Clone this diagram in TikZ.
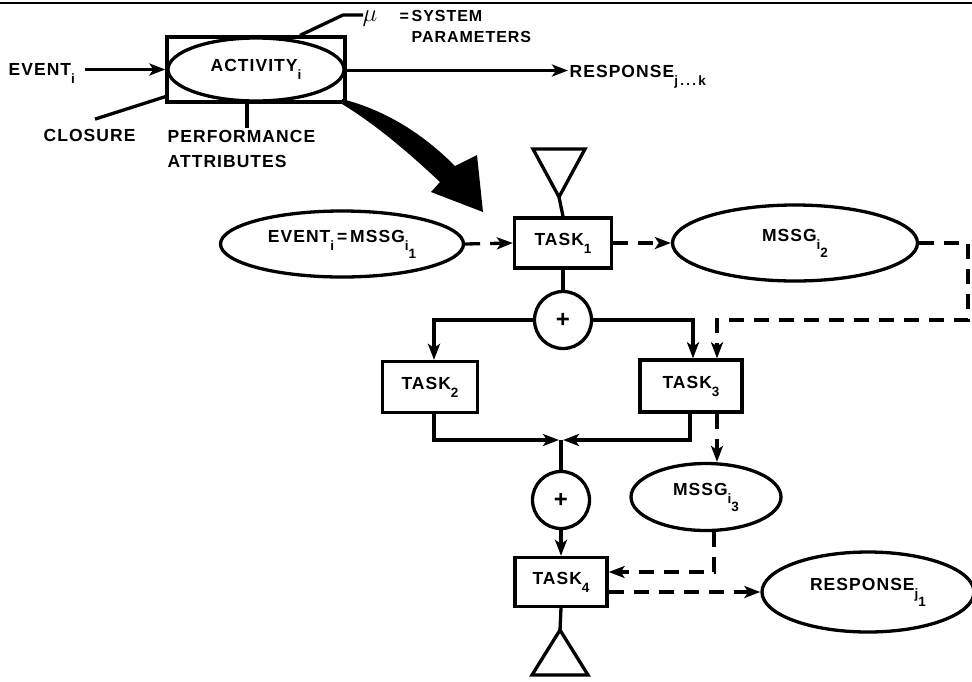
\documentclass[tikz,border=0pt]{standalone}
\usepackage{fontspec}
\setmainfont{Liberation Sans}[LetterSpace=6]
\usetikzlibrary{shapes.geometric,arrows.meta,calc}
\newcommand\lo[1]{\raisebox{-8pt}{\fontsize{13.5}{13.5}\selectfont #1}}
\begin{document}
\begin{tikzpicture}[x=1pt,y=-1pt, line width=3.3pt,
  font=\fontsize{17.5}{20}\selectfont\bfseries,
  arr/.style={-{Stealth[length=16pt,width=12pt,inset=4pt]}},
  dsh/.style={dash pattern=on 15pt off 10pt},
  taskbox/.style={draw, rectangle, inner sep=0pt},
  oval/.style={draw, ellipse, inner sep=0pt},
  junc/.style={draw, circle, inner sep=0pt, minimum size=57pt, font=\fontsize{24}{24}\selectfont\bfseries},
  lbl/.style={inner sep=0pt}]
\useasboundingbox (0,0) rectangle (972,681);
\draw[line width=2.4pt] (0,3) -- (972,3);

% ---------- upper part ----------
\node[taskbox, minimum width=178, minimum height=65] (actbox) at (256,69.5) {};
\node[oval, minimum width=176, minimum height=63] (act) at (256,69.5) {ACTIVITY\lo{i}};

\node[lbl, anchor=base west] (ev) at (7,75) {EVENT\lo{i}};
\draw[arr] ($(ev.east |- actbox.west)+(8,0)$) -- (actbox.west);

\node[lbl, anchor=base west] (clo) at (42,141) {CLOSURE};
\draw ([yshift=7pt]actbox.south west) -- ($(clo.north west)+(53,-8)$);

\node[lbl, anchor=north west, align=left, font=\fontsize{17.5}{25}\selectfont\bfseries] (perf) at (166,129) {PERFORMANCE\\ATTRIBUTES};
\draw ($(actbox.south)+(-9,0)$) -- ($(actbox.south)+(-9,24)$);

\node[lbl, font=\fontsize{30}{30}\selectfont] (mu) at (370,19) {$\mu$};
\draw ($(actbox.north)+(44,0)$) -- (343,15) -- ($(mu.west |- 343,15)+(2,0)$);
\node[lbl, anchor=north west, align=left, font=\fontsize{16}{21}\selectfont\bfseries] (sys) at (398,9) {=\,SYSTEM\\\hphantom{=\,}PARAMETERS};

\node[lbl, anchor=base west] (resp) at (568,77) {RESPONSE\lo{j\,.\,.\,.\,k}};
\draw[arr] ($(actbox.east)+(0,1)$) -- ($(resp.west |- actbox.east)+(0,1)$);

% big curved arrow
\fill (342,99) .. controls (392,112) and (428,139) .. (455,166) -- (477,155) -- (483,212)
  -- (431,192) -- (440,182) .. controls (410,154) and (378,126) .. (342,104) -- cycle;

% ---------- lower part ----------
\coordinate (t1) at (559,197);
\draw[line join=miter] (t1) -- ++(-26,-48) -- ++(52,0) -- cycle;

\node[taskbox, minimum width=97, minimum height=50] (task1) at (563,243) {TASK\lo{1}};
\draw (t1) -- (task1.north);

\node[oval, minimum width=243, minimum height=66] (ev1) at (342,244) {EVENT\lo{i}\,=\,MSSG\lo{i\lo{1}}};
\node[oval, minimum width=245, minimum height=76] (m2) at (795,243) {MSSG\lo{i\lo{2}}};

\draw[dsh, arr] (ev1.east) -- (task1.west);
\draw[dsh, arr] (task1.east) -- (m2.west);

\node[junc] (p1) at (563,320) {+};
\draw (task1.south) -- (p1.north);

\node[taskbox, minimum width=95, minimum height=51] (task2) at (430,387) {TASK\lo{2}};
\node[taskbox, minimum width=102, minimum height=52] (task3) at (691,386) {TASK\lo{3}};

\draw[arr] (p1.west) -| ($(task2.north)+(4,0)$);
\draw[arr] (p1.east) -| ($(task3.north)+(2,0)$);
\coordinate (t3in) at ($(task3.north)+(26,0)$);
\draw[dsh, arr] (m2.east) -- (968,243) -- (968,320) -| (t3in);

\coordinate (j) at (561,440);
\node[junc] (p2) at (561,500) {+};
\draw[arr] ($(task2.south)+(4,0)$) |- ($(j)+(-2,0)$);
\draw[arr] ($(task3.south)+(-1,0)$) |- ($(j)+(2,0)$);
\draw (j) -- (p2.north);

\node[oval, minimum width=150, minimum height=67] (m3) at (706,497) {MSSG\lo{i\lo{3}}};
\coordinate (t3out) at ($(task3.south)+(26,0)$);
\draw[dsh, arr] (t3out) -- (t3out |- m3.north);

\node[taskbox, minimum width=92, minimum height=49] (task4) at (561,582) {TASK\lo{4}};
\draw[arr] (p2.south) -- (task4.north);
\draw[dsh, arr] ($(m3.south)+(8,0)$) |- ([yshift=10pt]task4.east);

\node[oval, minimum width=212, minimum height=80] (r1) at (868,592) {RESPONSE\lo{j\lo{1}}};
\draw[dsh, arr] ([yshift=-10pt]task4.east) -- (r1.west);

\coordinate (t2) at (560,630);
\draw (task4.south) -- (t2);
\draw[line join=miter] (t2) -- ++(-28,45) -- ++(56,0) -- cycle;
\end{tikzpicture}
\end{document}
